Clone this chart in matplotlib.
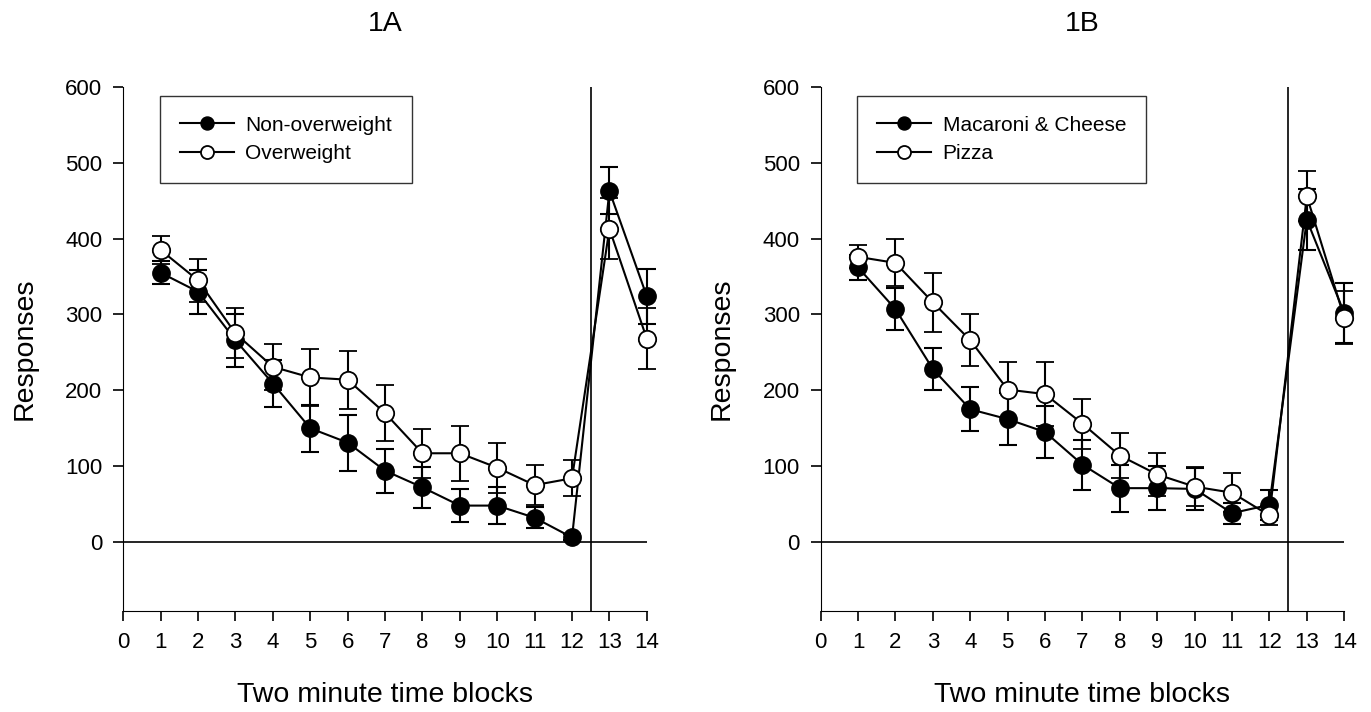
import numpy as np
import matplotlib.pyplot as plt

plt.rcParams['font.family'] = ['Liberation Sans', 'DejaVu Sans']

blocks = np.arange(1, 15)

# panel 1A
nonover = [355, 330, 266, 209, 150, 131, 94, 72, 48, 48, 32, 6, 463, 324]
nonover_err = [15, 29, 35, 31, 31, 37, 29, 27, 22, 24, 14, 4, 31, 36]
over = [385, 345, 275, 231, 217, 214, 170, 117, 117, 98, 75, 84, 413, 268]
over_err = [19, 28, 33, 30, 38, 38, 37, 32, 36, 33, 26, 24, 40, 40]

# panel 1B
mac = [362, 307, 228, 175, 162, 145, 102, 71, 71, 70, 38, 49, 425, 302]
mac_err = [16, 28, 28, 29, 34, 34, 33, 31, 29, 28, 14, 20, 40, 40]
pizza = [376, 368, 316, 266, 201, 195, 156, 114, 89, 73, 65, 35, 456, 296]
pizza_err = [15, 31, 39, 34, 36, 42, 33, 30, 29, 26, 26, 13, 33, 35]

panels = [
    ('1A', nonover, nonover_err, over, over_err, ['Non-overweight', 'Overweight']),
    ('1B', mac, mac_err, pizza, pizza_err, ['Macaroni & Cheese', 'Pizza']),
]

fig = plt.figure(figsize=(13.71, 7.12), dpi=100)
lefts = [123.3 / 1371, 820.7 / 1371]
w = 523.5 / 1371
b = 1 - 611 / 712
h = (611 - 87) / 712

for left, (title, y1, e1, y2, e2, labels) in zip(lefts, panels):
    ax = fig.add_axes([left, b, w, h])
    ax.axhline(0, color='black', lw=1.2, zorder=1)
    ax.axvline(12.5, color='black', lw=1.2, zorder=1)
    eb1 = ax.errorbar(blocks, y1, yerr=e1, color='black', lw=1.5, capsize=6.8,
                      capthick=1.5, elinewidth=1.5, marker='o', ms=12.5,
                      mfc='black', mec='black', label=labels[0], zorder=3)
    eb2 = ax.errorbar(blocks, y2, yerr=e2, color='black', lw=1.5, capsize=6.8,
                      capthick=1.5, elinewidth=1.5, marker='o', ms=12.5,
                      mfc='white', mec='black', mew=1.3, label=labels[1], zorder=4)
    for eb in (eb1, eb2):
        for art in eb.get_children():
            art.set_clip_on(False)
    ax.set_xlim(0, 14)
    ax.set_ylim(-91, 600)
    ax.set_xticks(range(0, 15))
    ax.set_yticks(range(0, 601, 100))
    ax.spines['top'].set_visible(False)
    ax.spines['right'].set_visible(False)
    ax.tick_params(direction='out', length=7, width=1.2, labelsize=16, pad=8)
    ax.set_xlabel('Two minute time blocks', fontsize=20.5, labelpad=21)
    ax.set_ylabel('Responses', fontsize=20.5, labelpad=20)
    ax.set_title(title, fontsize=20.5, pad=40)
    h_, l_ = ax.get_legend_handles_labels()
    h_ = [hh[0] for hh in h_]
    leg = ax.legend(h_, l_, loc='upper left', bbox_to_anchor=(0.058, 0.995),
                    fontsize=15, frameon=True, fancybox=False, edgecolor='black',
                    markerscale=0.75, handlelength=2.6, handletextpad=0.55,
                    borderpad=0.95, labelspacing=0.45, borderaxespad=0.3)
    leg.get_frame().set_linewidth(1.0)

fig.savefig('out.png', dpi=100)
